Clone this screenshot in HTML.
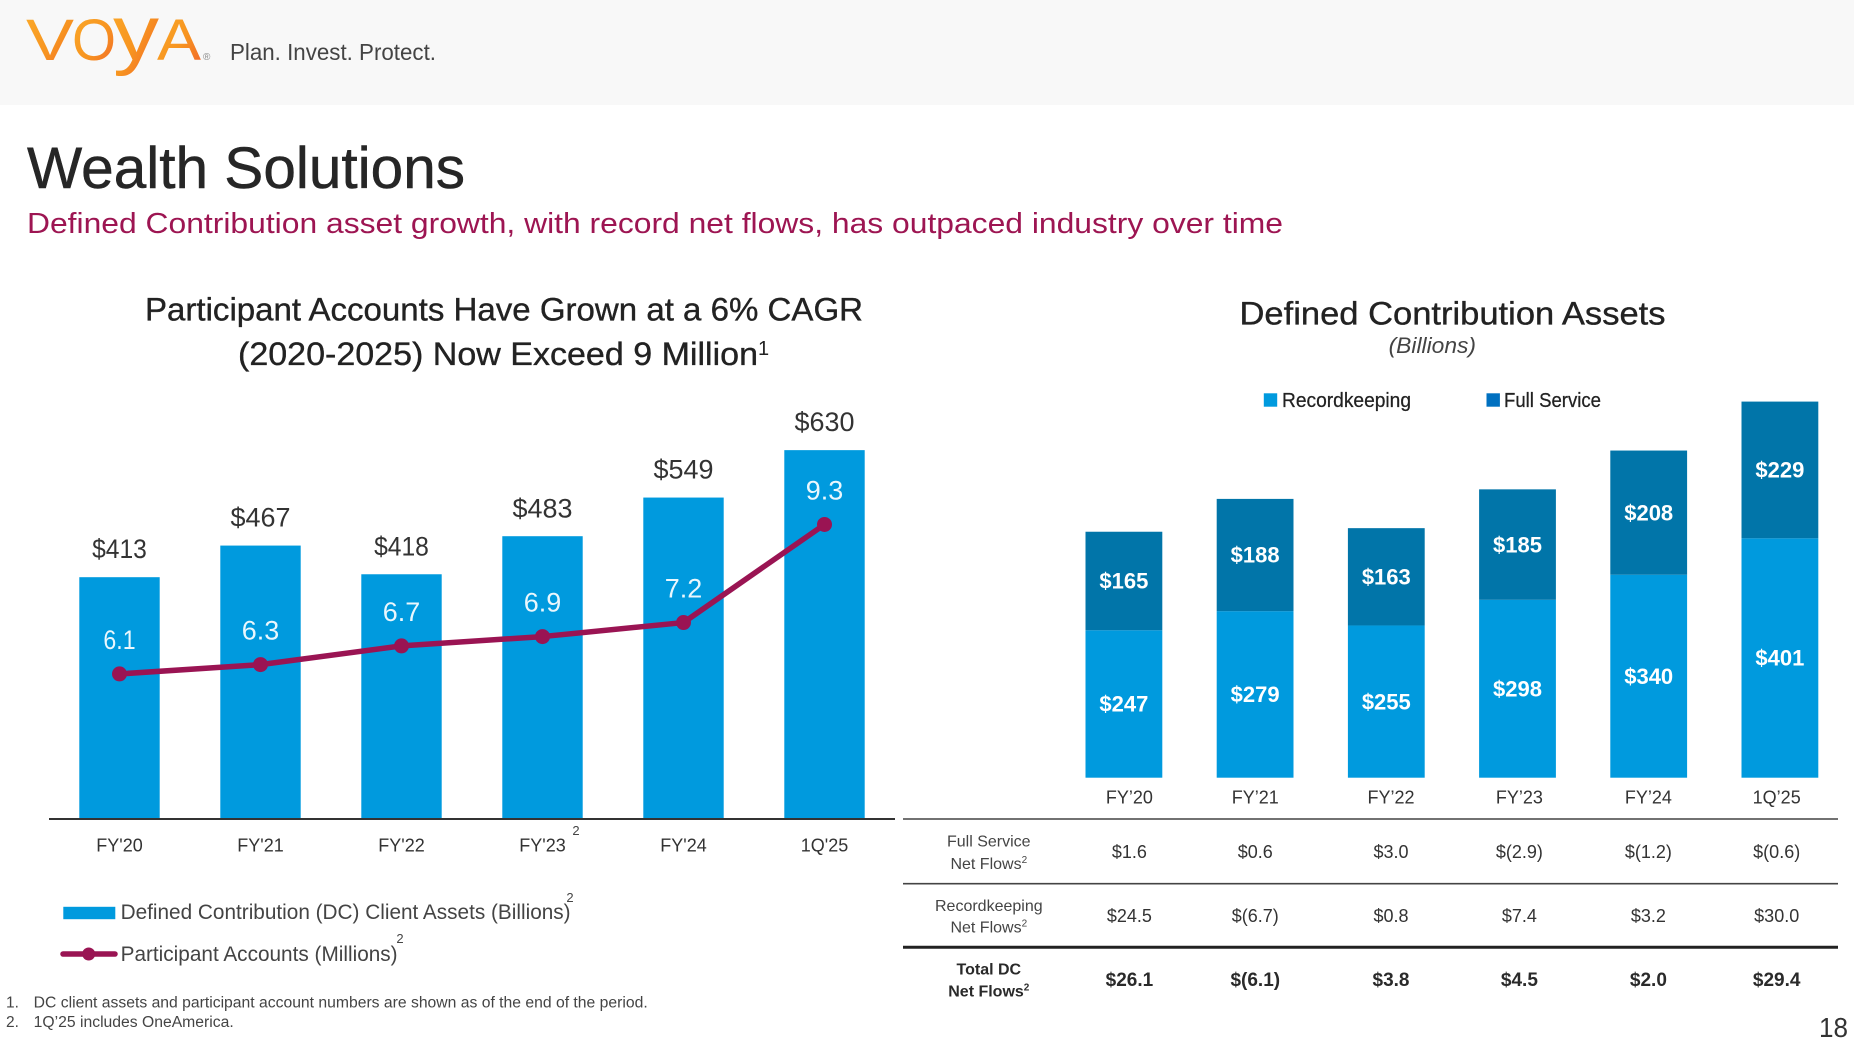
<!DOCTYPE html>
<html lang="en">
<head>
<meta charset="utf-8">
<title>Wealth Solutions</title>
<style>
html,body{margin:0;padding:0;background:#fff;}
body{width:1854px;height:1044px;overflow:hidden;}
svg{display:block;font-family:"Liberation Sans",sans-serif;}
.th{font-size:18px;fill:#333;text-anchor:middle;}
.rl{font-size:16px;fill:#444;text-anchor:middle;}
.tv{font-size:18px;fill:#333;text-anchor:middle;}
.tb{font-size:19px;font-weight:bold;fill:#2a2a2a;text-anchor:middle;}
</style>
</head>
<body>
<svg id="slide-svg" width="1854" height="1044" viewBox="0 0 1854 1044" xmlns="http://www.w3.org/2000/svg">
<defs>
<linearGradient id="logoGrad" x1="0" y1="0" x2="1" y2="1">
<stop offset="0" stop-color="#fbab2a"/><stop offset="0.55" stop-color="#f79420"/><stop offset="1" stop-color="#f1602b"/>
</linearGradient>
</defs>
<rect x="0" y="0" width="1854" height="105" fill="#f8f8f8"/>
<g fill="url(#logoGrad)">
<text x="26" y="60" font-size="58" textLength="48" lengthAdjust="spacingAndGlyphs">V</text>
<text x="72" y="60" font-size="58" textLength="44" lengthAdjust="spacingAndGlyphs">O</text>
<text x="113" y="60" font-size="78" textLength="46" lengthAdjust="spacingAndGlyphs">y</text>
<text x="157" y="60" font-size="58" textLength="44" lengthAdjust="spacingAndGlyphs">A</text>
</g>
<text x="203" y="60" font-size="10" fill="#888">®</text>
<text x="230" y="60" font-size="23" fill="#444" textLength="206" lengthAdjust="spacingAndGlyphs">Plan. Invest. Protect.</text>

<text x="27" y="188" font-size="58" fill="#262626" stroke="#262626" stroke-width="0.5" textLength="438" lengthAdjust="spacingAndGlyphs">Wealth Solutions</text>
<text x="27" y="233" font-size="29" fill="#9d1552" textLength="1256" lengthAdjust="spacingAndGlyphs">Defined Contribution asset growth, with record net flows, has outpaced industry over time</text>

<text x="145" y="320.7" font-size="32" fill="#222" stroke="#222" stroke-width="0.35" textLength="718" lengthAdjust="spacingAndGlyphs">Participant Accounts Have Grown at a 6% CAGR</text>
<text x="238" y="365" font-size="32" fill="#222" stroke="#222" stroke-width="0.35" textLength="520" lengthAdjust="spacingAndGlyphs">(2020-2025) Now Exceed 9 Million</text>
<text x="758" y="355" font-size="20" fill="#222">1</text>

<g id="left-chart"></g>
<line x1="49" y1="819" x2="895" y2="819" stroke="#333" stroke-width="2"/>
<text x="576" y="835" font-size="13" fill="#444" text-anchor="middle">2</text>

<g>
<rect x="63.3" y="906.8" width="52" height="12.4" fill="#009ade"/>
<text x="120.6" y="919" font-size="21" fill="#444" textLength="450" lengthAdjust="spacingAndGlyphs">Defined Contribution (DC) Client Assets (Billions)</text>
<text x="570" y="902" font-size="13" fill="#444" text-anchor="middle">2</text>
<line x1="63" y1="954" x2="115" y2="954" stroke="#9a1453" stroke-width="5.5" stroke-linecap="round"/>
<circle cx="88.7" cy="954" r="6.5" fill="#9a1453"/>
<text x="120.6" y="961" font-size="21" fill="#444" textLength="277" lengthAdjust="spacingAndGlyphs">Participant Accounts (Millions)</text>
<text x="400" y="943" font-size="13" fill="#444" text-anchor="middle">2</text>
</g>

<g font-size="15.5" fill="#444">
<text x="6" y="1007.5">1.</text>
<text x="33.7" y="1007.5" textLength="614" lengthAdjust="spacingAndGlyphs">DC client assets and participant account numbers are shown as of the end of the period.</text>
<text x="6" y="1027">2.</text>
<text x="33.7" y="1027" textLength="200" lengthAdjust="spacingAndGlyphs">1Q’25 includes OneAmerica.</text>
</g>

<text x="1239.5" y="324.3" font-size="32" fill="#222" stroke="#222" stroke-width="0.35" textLength="426" lengthAdjust="spacingAndGlyphs">Defined Contribution Assets</text>
<text x="1388.6" y="353" font-size="22" font-style="italic" fill="#444" textLength="87.4" lengthAdjust="spacingAndGlyphs">(Billions)</text>
<g>
<rect x="1263.8" y="393.3" width="13.4" height="13.4" fill="#009ade"/>
<text x="1282" y="407" font-size="20" fill="#222" stroke="#222" stroke-width="0.25" textLength="129" lengthAdjust="spacingAndGlyphs">Recordkeeping</text>
<rect x="1486.5" y="393.3" width="13.4" height="13.4" fill="#0070c0"/>
<text x="1504" y="407" font-size="20" fill="#222" stroke="#222" stroke-width="0.25" textLength="97" lengthAdjust="spacingAndGlyphs">Full Service</text>
</g>
<g id="right-chart"></g>

<g>
<g>
<text class="th" x="1129.4" y="803.5">FY’20</text>
<text class="th" x="1255.3" y="803.5">FY’21</text>
<text class="th" x="1391" y="803.5">FY’22</text>
<text class="th" x="1519.4" y="803.5">FY’23</text>
<text class="th" x="1648.4" y="803.5">FY’24</text>
<text class="th" x="1776.7" y="803.5">1Q’25</text>
</g>
<line x1="903" y1="819" x2="1838" y2="819" stroke="#444" stroke-width="1.6"/>
<line x1="903" y1="883.7" x2="1838" y2="883.7" stroke="#444" stroke-width="1.6"/>
<line x1="903" y1="947.3" x2="1838" y2="947.3" stroke="#222" stroke-width="3"/>

<g>
<text class="rl" x="988.8" y="846.5">Full Service</text>
<text class="rl" x="988.8" y="868.8">Net Flows<tspan font-size="10" dy="-6">2</tspan></text>
<text class="tv" x="1129.4" y="858">$1.6</text>
<text class="tv" x="1255.3" y="858">$0.6</text>
<text class="tv" x="1391" y="858">$3.0</text>
<text class="tv" x="1519.4" y="858">$(2.9)</text>
<text class="tv" x="1648.4" y="858">$(1.2)</text>
<text class="tv" x="1776.7" y="858">$(0.6)</text>
</g>
<g>
<text class="rl" x="988.8" y="910.8">Recordkeeping</text>
<text class="rl" x="988.8" y="932.5">Net Flows<tspan font-size="10" dy="-6">2</tspan></text>
<text class="tv" x="1129.4" y="922">$24.5</text>
<text class="tv" x="1255.3" y="922">$(6.7)</text>
<text class="tv" x="1391" y="922">$0.8</text>
<text class="tv" x="1519.4" y="922">$7.4</text>
<text class="tv" x="1648.4" y="922">$3.2</text>
<text class="tv" x="1776.7" y="922">$30.0</text>
</g>
<g>
<text class="rl" x="988.8" y="974.5" style="font-weight:bold;fill:#2a2a2a">Total DC</text>
<text class="rl" x="988.8" y="996.5" style="font-weight:bold;fill:#2a2a2a">Net Flows<tspan font-size="10" dy="-6">2</tspan></text>
<text class="tb" x="1129.4" y="986">$26.1</text>
<text class="tb" x="1255.3" y="986">$(6.1)</text>
<text class="tb" x="1391" y="986">$3.8</text>
<text class="tb" x="1519.4" y="986">$4.5</text>
<text class="tb" x="1648.4" y="986">$2.0</text>
<text class="tb" x="1776.7" y="986">$29.4</text>
</g>
</g>
<text x="1819" y="1037" font-size="28" fill="#333" textLength="29" lengthAdjust="spacingAndGlyphs">18</text>
</svg>
<script>
var leftCategories = ["FY'20", "FY'21", "FY'22", "FY'23", "FY'24", "1Q'25"];
var clientAssets = [413, 467, 418, 483, 549, 630];
var participantAccounts = [6.1, 6.3, 6.7, 6.9, 7.2, 9.3];
var rightCategories = ["FY20", "FY21", "FY22", "FY23", "FY24", "1Q25"];
var recordkeepingAssets = [247, 279, 255, 298, 340, 401];
var fullServiceAssets = [165, 188, 163, 185, 208, 229];

var NS = 'http://www.w3.org/2000/svg';
function xLeft(i) { return 119.5 + 141 * i; }
function yAssets(v) { return 819 - 0.5855 * v; }
function yAccounts(v) { return 958.8 - 46.7 * v; }
function xRight(i) { return 1123.9 + 131.2 * i; }
function yStack(v) { return 777.7 - 0.597 * v; }

function makeRect(parent, x, y, w, h, fill) {
  var r = document.createElementNS(NS, 'rect');
  r.setAttribute('x', x);
  r.setAttribute('y', y);
  r.setAttribute('width', w);
  r.setAttribute('height', h);
  r.setAttribute('fill', fill);
  parent.appendChild(r);
  return r;
}
function makeText(parent, str, cx, cy, size, fill, weight) {
  var t = document.createElementNS(NS, 'text');
  t.setAttribute('x', cx);
  t.setAttribute('y', cy + size * 0.35);
  t.setAttribute('font-size', size);
  t.setAttribute('fill', fill);
  t.setAttribute('text-anchor', 'middle');
  if (weight) t.setAttribute('font-weight', weight);
  t.textContent = str;
  parent.appendChild(t);
  return t;
}
// The reference face has a narrow figure 1, so tighten labels that contain it.
function fitProportional(t, str, size) {
  var em = 0;
  for (var k = 0; k < str.length; k++) {
    em += str[k] === '1' ? 0.36 : str[k] === '.' ? 0.278 : 0.556;
  }
  t.setAttribute('textLength', (em * size).toFixed(1));
  t.setAttribute('lengthAdjust', 'spacingAndGlyphs');
}

var left = document.getElementById('left-chart');
clientAssets.forEach(function (v, i) {
  var bar = makeRect(left, xLeft(i) - 40.2, yAssets(v), 80.4, 819 - yAssets(v), '#009ade');
  
  
  var lab = makeText(left, '$' + v, xLeft(i), yAssets(v) - 28.4, 27, '#333');
  fitProportional(lab, '$' + v, 27);
  
  
  var cat = makeText(left, leftCategories[i], xLeft(i), 845, 18, '#333');
  
  
});
var points = participantAccounts.map(function (v, i) { return xLeft(i) + ',' + yAccounts(v); }).join(' ');
var accountLine = document.createElementNS(NS, 'polyline');
accountLine.setAttribute('points', points);
accountLine.setAttribute('fill', 'none');
accountLine.setAttribute('stroke', '#9a1453');
accountLine.setAttribute('stroke-width', '5.5');
accountLine.setAttribute('stroke-linejoin', 'round');


left.appendChild(accountLine);
participantAccounts.forEach(function (v, i) {
  var c = document.createElementNS(NS, 'circle');
  c.setAttribute('cx', xLeft(i));
  c.setAttribute('cy', yAccounts(v));
  c.setAttribute('r', 7.5);
  c.setAttribute('fill', '#9a1453');
  
  
  left.appendChild(c);
  var str = v.toFixed(1);
  var lab = makeText(left, str, xLeft(i), yAccounts(v) - 34.6, 27, '#eaf7fd');
  fitProportional(lab, str, 27);
  
  
});

var right = document.getElementById('right-chart');
recordkeepingAssets.forEach(function (rk, i) {
  var fs = fullServiceAssets[i];
  var w = 76.8;
  var x = xRight(i) - w / 2;
  var rkBar = makeRect(right, x, yStack(rk), w, yStack(0) - yStack(rk), '#009ade');
  
  
  var fsBar = makeRect(right, x, yStack(rk + fs), w, yStack(rk) - yStack(rk + fs), '#0175a9');
  
  
  var rkLab = makeText(right, '$' + rk, xRight(i), yStack(rk / 2), 22, '#fff', 'bold');
  
  
  var fsLab = makeText(right, '$' + fs, xRight(i), yStack(rk + fs / 2), 22, '#fff', 'bold');
  
  
});
</script>
</body>
</html>
